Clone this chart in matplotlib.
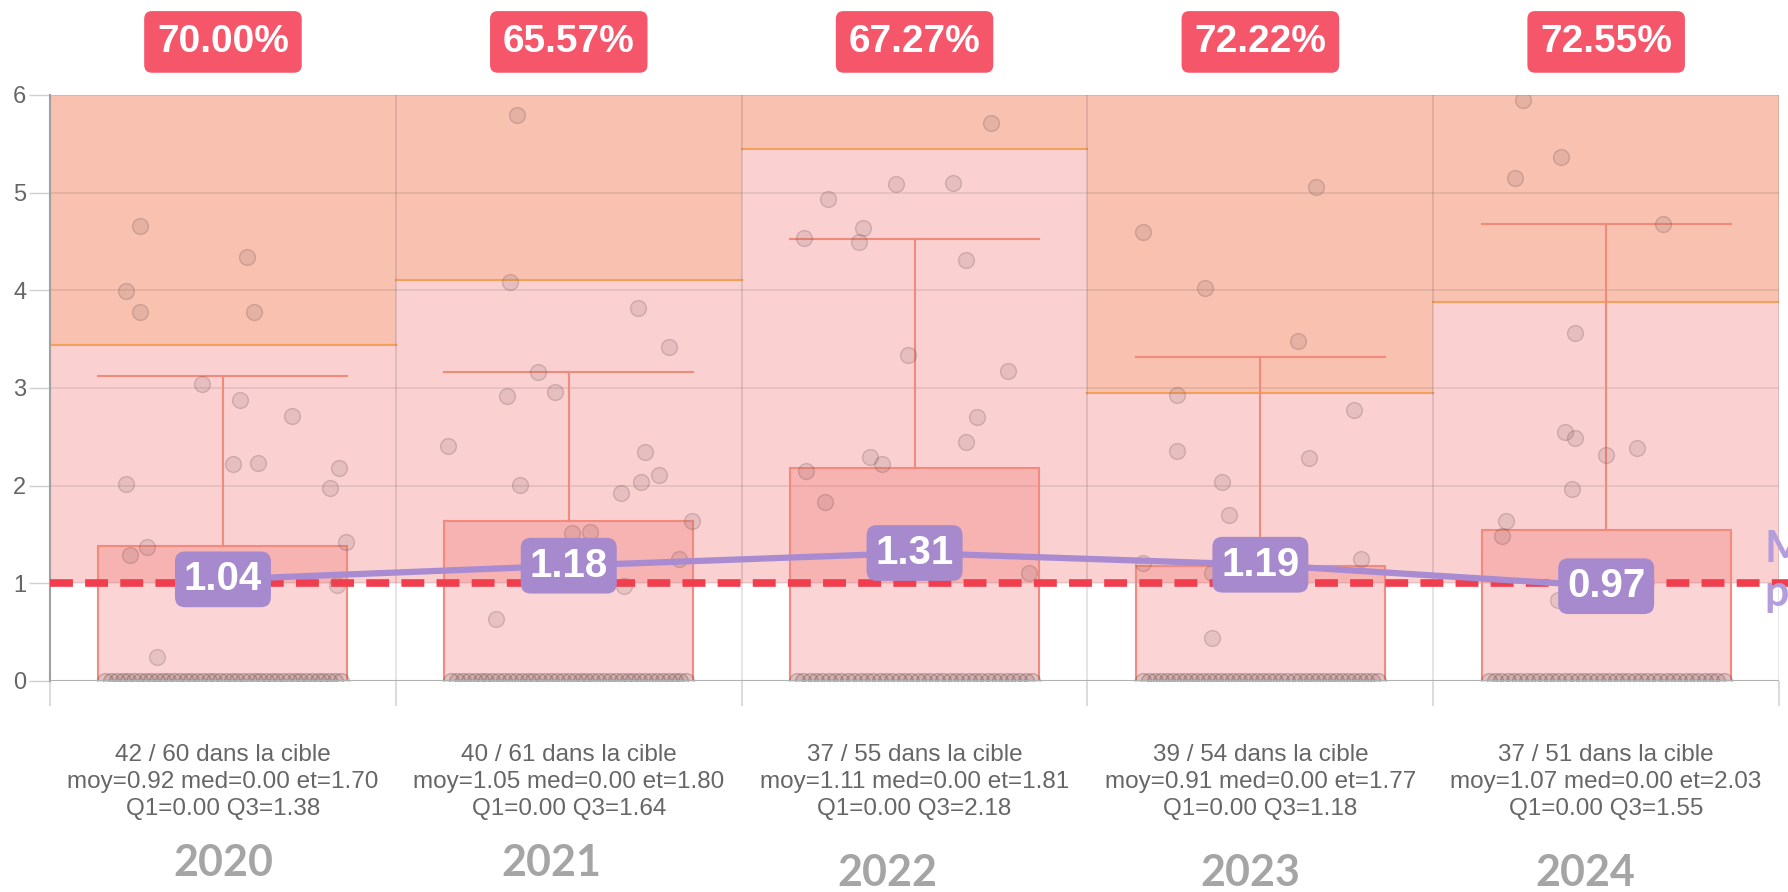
import numpy as np
import matplotlib.pyplot as plt
from matplotlib import transforms

# ---------------- data ----------------
years = ["2020", "2021", "2022", "2023", "2024"]
in_target = [42, 40, 37, 39, 37]
totals = [60, 61, 55, 54, 51]
moy = [0.92, 1.05, 1.11, 0.91, 1.07]
med = [0.00, 0.00, 0.00, 0.00, 0.00]
et = [1.70, 1.80, 1.81, 1.77, 2.03]
q1 = [0.00, 0.00, 0.00, 0.00, 0.00]
q3 = [1.38, 1.64, 2.18, 1.18, 1.55]
whisker_top = [3.12, 3.16, 4.52, 3.32, 4.68]
zone_limit = [3.44, 4.10, 5.45, 2.95, 3.88]
mean_line = [1.04, 1.18, 1.31, 1.19, 0.97]
target = 1.0

pts_2020 = [4.66, 4.34, 3.99, 3.78, 3.78, 3.04, 2.88, 2.71, 2.22, 2.23, 2.18, 2.02, 1.98, 1.42, 1.37, 1.29, 0.98, 0.25]
off_2020 = [-0.24, 0.07, -0.28, -0.24, 0.09, -0.06, 0.05, 0.20, 0.03, 0.10, 0.335, -0.28, 0.31, 0.355, -0.22, -0.27, 0.33, -0.19]
pts_2021 = [5.79, 4.08, 3.82, 3.42, 3.16, 2.92, 2.96, 2.41, 2.34, 2.11, 2.04, 2.01, 1.92, 1.64, 1.51, 1.53, 1.25, 1.12, 0.97, 0.63]
off_2021 = [-0.15, -0.17, 0.20, 0.29, -0.09, -0.18, -0.04, -0.35, 0.22, 0.26, 0.21, -0.14, 0.15, 0.355, 0.01, 0.06, 0.32, 0.08, 0.16, -0.21]
pts_2022 = [5.71, 5.09, 5.10, 4.93, 4.64, 4.54, 4.49, 4.31, 3.34, 3.17, 2.70, 2.45, 2.29, 2.22, 2.15, 1.83, 1.11]
off_2022 = [0.22, -0.055, 0.11, -0.25, -0.15, -0.32, -0.16, 0.15, -0.02, 0.27, 0.18, 0.15, -0.13, -0.095, -0.315, -0.26, 0.33]
pts_2023 = [5.06, 4.60, 4.02, 3.48, 2.93, 2.77, 2.35, 2.28, 2.04, 1.70, 1.21, 1.25, 1.11, 0.44]
off_2023 = [0.16, -0.34, -0.16, 0.11, -0.24, 0.27, -0.24, 0.14, -0.11, -0.09, -0.34, 0.29, -0.14, -0.14]
pts_2024 = [5.95, 5.36, 5.15, 4.68, 3.56, 2.55, 2.49, 2.31, 2.39, 1.97, 1.64, 1.48, 0.83]
off_2024 = [-0.24, -0.13, -0.265, 0.165, -0.09, -0.12, -0.09, 0.0, 0.09, -0.10, -0.29, -0.30, -0.14]
points = [pts_2020, pts_2021, pts_2022, pts_2023, pts_2024]
offsets = [off_2020, off_2021, off_2022, off_2023, off_2024]

# horizontal nudges of the big year labels (they are placed by hand in the original)
year_dx = [0.0, -0.05, -0.08, -0.03, -0.06]
year_y = [0.032, 0.032, 0.021, 0.021, 0.021]

# ---------------- figure ----------------
fig = plt.figure(figsize=(17.88, 8.92), dpi=100)
ax = fig.add_axes([0.028, 0.2366, 0.967, 0.657])
x = np.arange(len(years))
half = 0.36

for i in range(len(years)):
    # target zone (pink) and over zone (orange)
    ax.fill_between([i - 0.5, i + 0.5], target, zone_limit[i], color="#fad0d1", lw=0, zorder=1)
    ax.fill_between([i - 0.5, i + 0.5], zone_limit[i], 6, color="#f8c1b0", lw=0, zorder=1)
    ax.plot([i - 0.5, i + 0.5], [zone_limit[i], zone_limit[i]], color="#f5a05a", lw=1.5, zorder=2)
    # box
    ax.bar(i, q3[i] - q1[i], bottom=q1[i], width=2 * half, color=(0.94, 0.35, 0.35, 0.25),
           edgecolor="#f28b7e", lw=1.5, zorder=3)
    # whisker
    ax.plot([i, i], [q3[i], whisker_top[i]], color="#f08a7a", lw=1.5, zorder=3)
    ax.plot([i - half, i + half], [whisker_top[i], whisker_top[i]], color="#f08a7a", lw=1.5, zorder=3)
    # observations
    n_zero = totals[i] - len(points[i])
    zx = i + np.linspace(-half + 0.02, half - 0.02, n_zero)
    ax.scatter(zx, np.zeros(n_zero), s=130, color=(0.45, 0.33, 0.33, 0.16),
               edgecolor=(0.35, 0.25, 0.25, 0.3), lw=1, zorder=4)
    ax.scatter(i + np.array(offsets[i]), points[i], s=130, color=(0.45, 0.33, 0.33, 0.14),
               edgecolor=(0.35, 0.25, 0.25, 0.22), lw=1, zorder=4)

# grid
for yv in range(1, 7):
    ax.axhline(yv, color=(0, 0, 0, 0.09), lw=1.2, zorder=2)
ax.axhline(0, color="#b0b0b0", lw=1.5, zorder=5)
for b in np.arange(-0.5, 5, 1):
    ax.axvline(b, color=(0, 0, 0, 0.12), lw=1.2, zorder=2)

# target line
ax.plot([-0.5, 5.2], [target, target], color="#f03e4f", lw=5.5, ls=(0, (3.0, 1.6)),
        zorder=6, clip_on=False)

# mean line and labels
ax.plot(x, mean_line, color="#a98bd2", lw=4.5, zorder=7, solid_capstyle="round")
for i, v in enumerate(mean_line):
    ax.text(i, v, f"{v:.2f}", ha="center", va="center", color="white", fontsize=29,
            fontweight="bold", family="Liberation Sans", zorder=8,
            bbox=dict(boxstyle="round,pad=0.22,rounding_size=0.25", fc="#a68acd", ec="none"))

ax.set_xlim(-0.5, 4.5)
ax.set_ylim(0, 6)
for s in ["top", "right", "bottom"]:
    ax.spines[s].set_visible(False)
ax.spines["left"].set_color("#a0a0a0")
ax.spines["left"].set_linewidth(1.5)
ax.set_yticks(range(0, 7))
ax.tick_params(axis="y", length=15, width=1, color="#d0d0d0", labelsize=17,
               labelcolor="#666666", pad=2)
for lab in ax.get_yticklabels():
    lab.set_family("Liberation Sans")
ax.set_xticks(np.arange(-0.5, 5, 1))
ax.set_xticklabels([])
ax.tick_params(axis="x", length=18, width=1.5, color="#dcdcdc")

trans = transforms.blended_transform_factory(ax.transData, fig.transFigure)
for i in range(len(years)):
    pct = 100 * in_target[i] / totals[i]
    ax.text(i, 0.953, f"{pct:.2f}%", transform=trans, ha="center", va="center", color="white",
            fontsize=28, fontweight="bold", family="Liberation Sans",
            bbox=dict(boxstyle="round,pad=0.33,rounding_size=0.2", fc="#f5566a", ec="none"))
    stats = (f"{in_target[i]} / {totals[i]} dans la cible\n"
             f"moy={moy[i]:.2f} med={med[i]:.2f} et={et[i]:.2f}\n"
             f"Q1={q1[i]:.2f} Q3={q3[i]:.2f}")
    ax.text(i, 0.1233, stats, transform=trans, ha="center", va="center", color="#666666",
            fontsize=17.5, family="Liberation Sans", linespacing=1.32)
    ax.text(i + year_dx[i], year_y[i], years[i], transform=trans, ha="center", va="center",
            color="#a5a5a5", fontsize=31, fontweight="bold", family="Lato")

# legend text on the right edge, cut off by the figure border as in the original
fig.text(0.987, 0.36, "Moyenne\npondérée", ha="left", va="center", color="#b39ddb",
         fontsize=31, fontweight="bold", family="Lato", linespacing=1.1)

fig.savefig("out.png", dpi=100)
